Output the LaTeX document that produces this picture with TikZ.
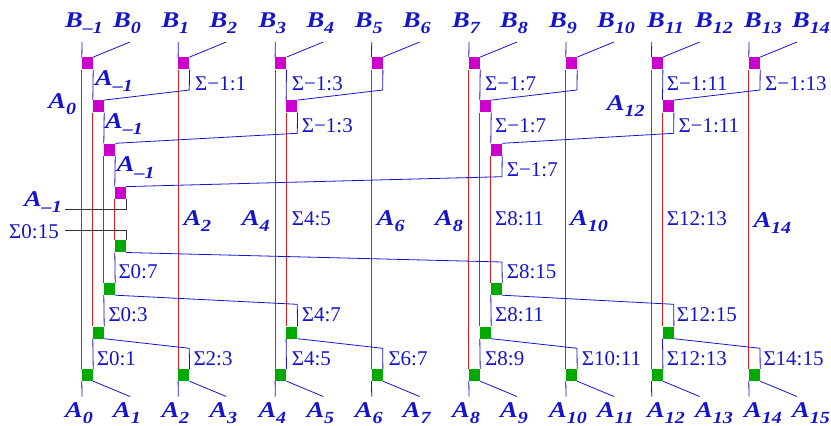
\documentclass[tikz,border=0pt]{standalone}
\usepackage{graphicx}
\usepackage{fontspec}
\setmainfont{Liberation Serif}
\usetikzlibrary{backgrounds}
\definecolor{lb}{RGB}{20,20,205}
\definecolor{mg}{RGB}{204,0,204}
\definecolor{gn}{RGB}{0,170,0}
\definecolor{rd}{RGB}{225,25,25}
\newcommand\bsub[2]{\scalebox{1.18}[1]{#1\raisebox{-6.5pt}{\fontsize{17}{17}\selectfont #2}}}
\tikzset{
  bx/.style={rectangle, inner sep=0pt, minimum width=11pt, minimum height=12pt, draw=none},
  mbx/.style={bx, fill=mg},
  gbx/.style={bx, fill=gn},
  bl/.style={draw=lb, line width=0.8pt},
  rl/.style={draw=rd, line width=0.8pt},
  kl/.style={draw=black!80, line width=0.8pt},
  sig/.style={text=lb, inner sep=0pt, anchor=base west, font=\fontsize{21}{21}\selectfont},
  sige/.style={sig, anchor=base east},
  lab/.style={text=lb, inner sep=0pt, anchor=base west, font=\fontsize{22.5}{22.5}\selectfont\bfseries\itshape},
  labe/.style={lab, anchor=base east},
}
\begin{document}
\begin{tikzpicture}[x=1pt,y=-1pt]
\useasboundingbox (0,0) rectangle (831,426);
% boxes
\foreach \k/\x/\t in {0/82/82,1/178.3/178.3,2/275.3/275.3,3/371.7/371.7,4/469/469,5/566/566,6/651.7/664,7/749/761}{
  \node[mbx] (m1c\k) at (\x+5.5,63.3) {};
  \node[gbx] (g1c\k) at (\x+5.5,375) {};
  \coordinate (tin\k) at (\x,42);
  \coordinate (tdi\k) at (\x+48,42);
  \coordinate (bot\k) at (\x,396.5);
  \coordinate (bdi\k) at (\x+48,396.5);
  \node[lab] (bl\k) at (\t-17,27) {\bsub{B}{\pgfmathparse{int(2*\k-1)}\ifnum\pgfmathresult<0 –1\else\pgfmathresult\fi}};
  \node[lab] (br\k) at (\t+31,27) {\bsub{B}{\pgfmathparse{int(2*\k)}\pgfmathresult}};
  \node[lab] (al\k) at (\t-17,417) {\bsub{A}{\pgfmathparse{int(2*\k)}\pgfmathresult}};
  \node[lab] (ar\k) at (\t+31,417) {\bsub{A}{\pgfmathparse{int(2*\k+1)}\pgfmathresult}};
}
\foreach \k/\x in {0/82,2/275.3,4/469,6/651.7}{
  \node[mbx] (m2c\k) at (\x+16.5,106.3) {};
  \node[gbx] (g2c\k) at (\x+16.5,332.5) {};
}
\foreach \k/\x in {1/178.3,3/371.7,5/566,7/749}{
  \coordinate (u1c\k) at (\x+11,90);
  \coordinate (d1c\k) at (\x+11,348.3);
}
\foreach \k/\x in {0/82,4/469}{
  \node[mbx] (m3c\k) at (\x+27.5,149.5) {};
  \node[gbx] (g3c\k) at (\x+27.5,289) {};
}
\foreach \k/\x in {2/275.3,6/651.7}{
  \coordinate (u2c\k) at (\x+22,133.3);
  \coordinate (d2c\k) at (\x+22,304.3);
}
\node[mbx] (m4c0) at (82+38.5,192.8) {};
\node[gbx] (g4c0) at (82+38.5,246.3) {};
\coordinate (u3c4) at (469+33,176.7);
\coordinate (d3c4) at (469+33,262);
\coordinate (ka) at (65,209);
\coordinate (kb) at (65,230);

\begin{pgfonlayer}{background}
\foreach \k in {0,...,7}{
  \draw[bl] (tin\k) -- (m1c\k.north west);
  \draw[bl] (tdi\k) -- (m1c\k.north east);
  \draw[bl] (g1c\k.south west) -- (bot\k);
  \draw[bl] (g1c\k.south east) -- (bdi\k);
  \draw[rl] (m1c\k.south west) -- (g1c\k.north west);
}
\foreach \k/\j in {0/1,2/3,4/5,6/7}{
  \draw[bl] (m1c\k.south east) -- (m2c\k.north west);
  \draw[bl] (m1c\j.south east) -- (u1c\j) -- (m2c\k.north east);
  \draw[rl] (m2c\k.south west) -- (g2c\k.north west);
  \draw[bl] (g2c\k.south west) -- (g1c\k.north east);
  \draw[bl] (g2c\k.south east) -- (d1c\j) -- (g1c\j.north east);
}
\foreach \k/\j in {0/2,4/6}{
  \draw[bl] (m2c\k.south east) -- (m3c\k.north west);
  \draw[bl] (m2c\j.south east) -- (u2c\j) -- (m3c\k.north east);
  \draw[rl] (m3c\k.south west) -- (g3c\k.north west);
  \draw[bl] (g3c\k.south west) -- (g2c\k.north east);
  \draw[bl] (g3c\k.south east) -- (d2c\j) -- (g2c\j.north east);
}
\draw[bl] (m3c0.south east) -- (m4c0.north west);
\draw[bl] (m3c4.south east) -- (u3c4) -- (m4c0.north east);
\draw[rl] (m4c0.south west) -- (g4c0.north west);
\draw[bl] (g4c0.south west) -- (g3c0.north east);
\draw[bl] (g4c0.south east) -- (d3c4) -- (g3c4.north east);
\draw[kl] (m4c0.south east) |- (ka);
\draw[kl] (g4c0.north east) |- (kb);
\end{pgfonlayer}

% bold labels
\node[lab] (a0l) at (48.3,108.3) {\bsub{A}{0}};
\node[lab] (a12l) at (606.7,110) {\bsub{A}{12}};
\node[lab] (am1a) at (95,85) {\bsub{A}{–1}};
\node[lab] (am1b) at (105,128.3) {\bsub{A}{–1}};
\node[lab] (am1c) at (116.7,171.7) {\bsub{A}{–1}};
\node[labe] (am1d) at (62,206) {\bsub{A}{–1}};
\node[lab] (a2m) at (183.3,225) {\bsub{A}{2}};
\node[lab] (a4m) at (241.7,225) {\bsub{A}{4}};
\node[lab] (a6m) at (376.7,225) {\bsub{A}{6}};
\node[lab] (a8m) at (435,225) {\bsub{A}{8}};
\node[lab] (a10m) at (570,225) {\bsub{A}{10}};
\node[lab] (a14m) at (753.3,227) {\bsub{A}{14}};
% sigma labels
\node[sig] (s1) at (195,90.7) {Σ−1:1};
\node[sig] (s2) at (291.7,90.7) {Σ−1:3};
\node[sig] (s3) at (485,90.7) {Σ−1:7};
\node[sig] (s4) at (666.7,90.7) {Σ−1:11};
\node[sig] (s5) at (765,90.7) {Σ−1:13};
\node[sig] (s6) at (301.7,132.7) {Σ−1:3};
\node[sig] (s7) at (495,132.7) {Σ−1:7};
\node[sig] (s8) at (678.3,132.7) {Σ−1:11};
\node[sig] (s9) at (506.7,176.7) {Σ−1:7};
\node[sig] (s10) at (291.7,225) {Σ4:5};
\node[sig] (s11) at (495,225) {Σ8:11};
\node[sig] (s12) at (666.7,225) {Σ12:13};
\node[sige] (s13) at (59,238) {Σ0:15};
\node[sig] (s14) at (118.3,278.3) {Σ0:7};
\node[sig] (s15) at (506.7,278.3) {Σ8:15};
\node[sig] (s16) at (108.3,321.7) {Σ0:3};
\node[sig] (s17) at (301.7,321.7) {Σ4:7};
\node[sig] (s18) at (495,321.7) {Σ8:11};
\node[sig] (s19) at (676.7,321.7) {Σ12:15};
\node[sig] (s20) at (96.7,365) {Σ0:1};
\node[sig] (s21) at (193.3,365) {Σ2:3};
\node[sig] (s22) at (291.7,365) {Σ4:5};
\node[sig] (s23) at (388.3,365) {Σ6:7};
\node[sig] (s24) at (485,365) {Σ8:9};
\node[sig] (s25) at (581.7,365) {Σ10:11};
\node[sig] (s26) at (666.7,365) {Σ12:13};
\node[sig] (s27) at (763.3,365) {Σ14:15};
\end{tikzpicture}
\end{document}
